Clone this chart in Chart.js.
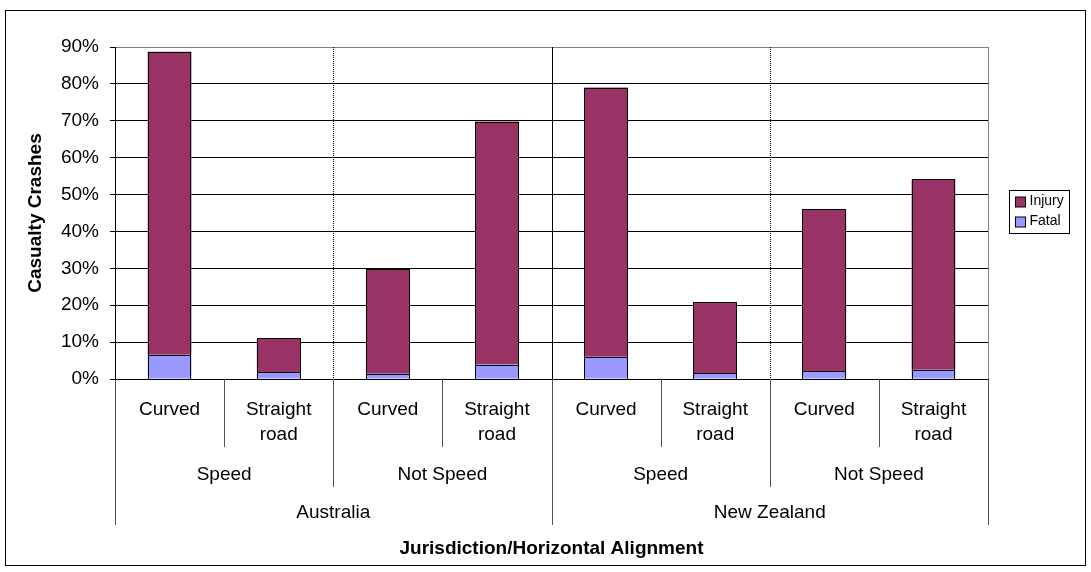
<!DOCTYPE html>
<html>
<head>
<meta charset="utf-8">
<script src="https://cdn.jsdelivr.net/npm/chart.js@4.4.1/dist/chart.umd.min.js"></script>
<style>
    html, body { margin: 0; padding: 0; background: #fff; }
    #wrap { width: 1091px; height: 572px; position: relative; }
</style>
</head>
<body>
<div id="wrap"><canvas id="crashChart"></canvas></div>
<script>
// --- Data ---
const alignments = ['Curved', ['Straight', 'road'], 'Curved', ['Straight', 'road'], 'Curved', ['Straight', 'road'], 'Curved', ['Straight', 'road']];
const speedGroups = ['Speed', 'Not Speed', 'Speed', 'Not Speed'];
const jurisdictions = ['Australia', 'New Zealand'];
const fatal = [6.6, 1.8, 1.4, 3.9, 6.0, 1.5, 2.2, 2.5];
const injury = [82.1, 9.2, 28.4, 65.9, 73.0, 19.4, 43.9, 51.6];
const yTicks = [0, 10, 20, 30, 40, 50, 60, 70, 80, 90];

const FONT = "'Liberation Sans', Arial, sans-serif";
const colors = {
    injury: '#993366',
    fatal: '#9999FF',
    grid: '#000000',
    frame: '#808080'
};

// draws the multi-level category axis, the group dividers, bar outlines, titles and the legend
const decorations = {
    id: 'decorations',
    beforeDatasetsDraw(chart) {
        const { ctx, chartArea: a, scales: { x } } = chart;
        const n = alignments.length;
        const edge = i => Math.round(x.getPixelForValue(i - 0.5)) + 0.5;
        ctx.save();
        ctx.lineWidth = 1;
        // right frame
        ctx.strokeStyle = colors.frame;
        ctx.beginPath();
        ctx.moveTo(Math.round(a.right) + 0.5, a.top);
        ctx.lineTo(Math.round(a.right) + 0.5, a.bottom);
        ctx.stroke();
        // dividers inside plot
        const per = n / jurisdictions.length;
        const half = n / speedGroups.length;
        ctx.strokeStyle = '#000';
        for (let i = 1; i < n; i++) {
            if (i % per === 0) {
                ctx.setLineDash([]);
            } else if (i % half === 0) {
                ctx.setLineDash([1, 1]);
            } else continue;
            ctx.beginPath();
            ctx.moveTo(edge(i), a.top);
            ctx.lineTo(edge(i), a.bottom);
            ctx.stroke();
        }
        ctx.restore();
    },
    afterDatasetsDraw(chart) {
        const { ctx } = chart;
        ctx.save();
        ctx.lineWidth = 1;
        ctx.strokeStyle = '#000';
        chart.data.datasets.forEach((ds, di) => {
            chart.getDatasetMeta(di).data.forEach(bar => {
                const p = bar.getProps(['x', 'y', 'base', 'width'], true);
                const l = Math.round(p.x - p.width / 2) + 0.5;
                const r = Math.round(p.x + p.width / 2) - 0.5;
                const t = Math.round(Math.min(p.y, p.base)) + 0.5;
                const b = Math.round(Math.max(p.y, p.base)) + 0.5;
                ctx.strokeRect(l, t, r - l, b - t);
            });
        });
        ctx.restore();
    },
    afterDraw(chart) {
        const { ctx, chartArea: a, scales: { x } } = chart;
        const n = alignments.length;
        const edge = i => Math.round(x.getPixelForValue(i - 0.5)) + 0.5;
        const per = n / jurisdictions.length;
        const half = n / speedGroups.length;
        ctx.save();
        ctx.lineWidth = 1;
        ctx.strokeStyle = '#555';
        // tick lines below axis
        for (let i = 0; i <= n; i++) {
            let len = 68;
            if (i % per === 0) len = 146;
            else if (i % half === 0) len = 108;
            ctx.beginPath();
            ctx.moveTo(edge(i), a.bottom);
            ctx.lineTo(edge(i), a.bottom + len);
            ctx.stroke();
        }
        ctx.fillStyle = '#000';
        ctx.textAlign = 'center';
        ctx.textBaseline = 'middle';
        ctx.font = '19px ' + FONT;
        alignments.forEach((lab, i) => {
            const cx = x.getPixelForValue(i);
            const lines = Array.isArray(lab) ? lab : [lab];
            lines.forEach((t, j) => ctx.fillText(t, cx, a.bottom + 31 + j * 25));
        });
        speedGroups.forEach((lab, g) => {
            const cx = (x.getPixelForValue(g * half) + x.getPixelForValue(g * half + half - 1)) / 2;
            ctx.fillText(lab, cx, a.bottom + 96);
        });
        jurisdictions.forEach((lab, g) => {
            const cx = (x.getPixelForValue(g * per) + x.getPixelForValue(g * per + per - 1)) / 2;
            ctx.fillText(lab, cx, a.bottom + 134);
        });
        // axis titles
        ctx.font = 'bold 19px ' + FONT;
        ctx.fillText('Jurisdiction/Horizontal Alignment', (a.left + a.right) / 2, a.bottom + 170);
        ctx.save();
        ctx.translate(36, (a.top + a.bottom) / 2);
        ctx.rotate(-Math.PI / 2);
        ctx.fillText('Casualty Crashes', 0, 0);
        ctx.restore();

        // legend
        const lx = 1009.5, ly = 190.5, lw = 60, lh = 43;
        ctx.strokeStyle = '#000';
        ctx.strokeRect(lx, ly, lw, lh);
        ctx.font = '14px ' + FONT;
        ctx.textAlign = 'left';
        const items = chart.data.datasets.slice().reverse();
        items.forEach((ds, k) => {
            const cy = ly + 11 + k * 20;
            ctx.fillStyle = ds.backgroundColor;
            ctx.fillRect(lx + 6, Math.round(cy - 5), 10, 10);
            ctx.strokeRect(lx + 6, Math.round(cy - 5), 10, 10);
            ctx.fillStyle = '#000';
            ctx.fillText(ds.label, lx + 20, cy);
        });

        // outer frame
        ctx.strokeStyle = '#000';
        ctx.strokeRect(5.5, 10.5, 1080, 555);
        ctx.restore();
    }
};

document.addEventListener('DOMContentLoaded', () => {
    const ctx = document.getElementById('crashChart').getContext('2d');
    new Chart(ctx, {
        type: 'bar',
        data: {
            labels: alignments.map(l => Array.isArray(l) ? l.join(' ') : l),
            datasets: [
                {
                    label: 'Fatal',
                    data: fatal,
                    backgroundColor: colors.fatal,
                    borderWidth: 0,
                    barPercentage: 0.4,
                    categoryPercentage: 1
                },
                {
                    label: 'Injury',
                    data: injury,
                    backgroundColor: colors.injury,
                    borderWidth: 0,
                    barPercentage: 0.4,
                    categoryPercentage: 1
                }
            ]
        },
        options: {
            responsive: true,
            maintainAspectRatio: false,
            animation: false,
            layout: { padding: { top: 47, right: 103, bottom: 0, left: 0 } },
            plugins: {
                legend: { display: false },
                tooltip: { enabled: false }
            },
            scales: {
                x: {
                    stacked: true,
                    grid: { display: false },
                    border: { display: false },
                    ticks: { display: false },
                    afterFit: s => { s.height = 193; }
                },
                y: {
                    stacked: true,
                    min: 0,
                    max: 90,
                    afterBuildTicks: s => { s.ticks = yTicks.map(v => ({ value: v })); },
                    grid: {
                        color: c => c.tick && c.tick.value === 90 ? colors.frame : colors.grid,
                        tickLength: 5,
                        tickColor: '#000'
                    },
                    border: { color: '#000', width: 1 },
                    ticks: {
                        padding: 11,
                        color: '#000',
                        font: { family: FONT, size: 19 },
                        callback: v => v + '%'
                    },
                    afterFit: s => { s.width = 115; }
                }
            }
        },
        plugins: [decorations]
    });
});
</script>
</body>
</html>
